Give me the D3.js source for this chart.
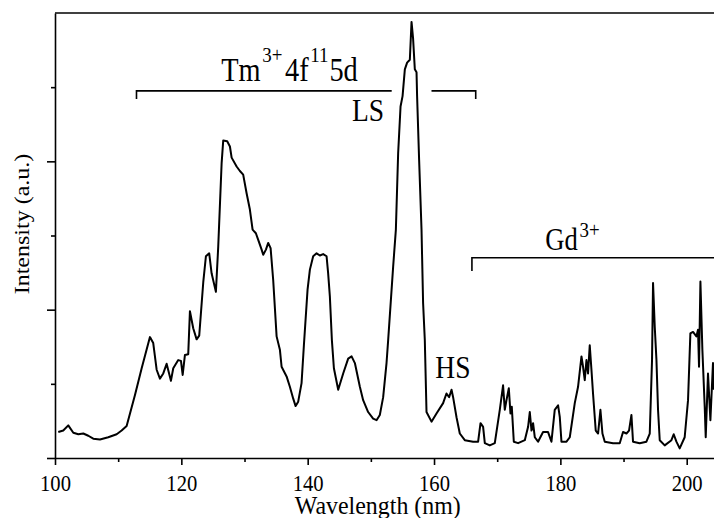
<!DOCTYPE html>
<html>
<head>
<meta charset="utf-8">
<script src="https://cdn.jsdelivr.net/npm/d3@7"></script>
<style>
  body { margin: 0; background: #fff; }
  text { font-family: "Liberation Serif", "Times New Roman", serif; fill: #000; }
</style>
</head>
<body>
<div id="vis"></div>
<script>
// spectrum (wavelength in nm, intensity in a.u.)
var wavelength = [100.52,101.31,102.10,102.90,103.69,104.48,105.27,106.06,107.12,108.43,
    109.76,110.55,111.34,112.66,113.72,115.03,115.55,116.09,116.61,117.14,
    117.67,118.35,118.72,119.51,119.94,120.21,120.57,121.09,121.36,121.88,
    122.42,122.83,123.47,123.89,124.41,124.79,125.47,125.84,126.38,126.63,
    127.26,127.69,127.96,128.75,129.27,129.79,130.33,130.85,131.28,131.80,
    132.17,132.71,132.96,133.39,133.75,134.13,134.54,135.08,135.60,135.87,
    136.66,137.18,137.71,138.09,138.50,139.03,139.40,139.98,140.35,140.87,
    141.41,141.93,142.45,142.99,143.24,143.51,143.83,144.15,144.83,145.62,
    146.41,146.95,147.47,148.26,148.78,149.57,150.36,150.90,151.42,151.95,
    152.48,152.74,153.53,153.96,154.32,154.70,155.02,155.38,155.74,156.17,
    156.44,156.69,156.96,157.23,157.32,157.64,158.02,158.27,158.54,158.81,
    159.60,160.39,161.44,161.97,162.39,162.77,163.02,163.56,164.08,164.87,
    166.19,166.98,167.36,167.77,168.04,168.83,169.62,170.41,170.93,171.20,
    171.47,171.84,172.10,172.31,172.63,173.31,174.37,174.89,175.16,175.43,
    175.68,175.95,176.47,177.26,178.05,178.59,179.11,179.64,179.91,180.17,
    180.97,181.49,182.28,182.80,183.34,183.59,183.86,184.13,184.38,184.65,
    184.92,185.17,185.60,185.97,186.34,186.66,187.03,188.34,189.40,189.92,
    190.46,190.87,191.25,191.50,192.56,193.62,194.15,194.51,194.67,194.94,
    195.21,195.46,195.73,196.52,197.58,197.94,198.37,198.89,199.68,200.21,
    200.58,201.00,201.53,201.79,201.95,202.17,202.48,202.85,203.01,203.37,
    203.75,204.16,204.30];

var intensity = [0.35,0.37,0.44,0.34,0.32,0.33,0.30,0.26,0.25,0.28,
    0.32,0.37,0.43,0.85,1.21,1.63,1.55,1.19,1.07,1.14,
    1.27,1.04,1.21,1.32,1.31,1.12,1.39,1.40,1.98,1.75,
    1.60,1.65,2.37,2.72,2.76,2.49,2.24,2.85,3.98,4.28,
    4.27,4.20,4.05,3.93,3.87,3.82,3.57,3.35,3.08,3.03,
    2.94,2.81,2.74,2.81,2.90,2.83,2.40,1.64,1.46,1.23,
    1.10,0.96,0.80,0.70,0.76,1.01,1.52,2.27,2.54,2.72,
    2.76,2.73,2.75,2.72,2.49,2.18,1.59,1.21,0.92,1.14,
    1.34,1.37,1.28,0.96,0.78,0.62,0.53,0.51,0.58,0.82,
    1.28,1.59,2.58,3.08,4.11,4.74,4.88,5.24,5.33,5.37,
    5.88,5.65,5.24,5.20,4.88,4.02,3.08,2.09,1.59,0.62,
    0.49,0.60,0.74,0.87,0.82,0.92,0.82,0.55,0.33,0.24,
    0.22,0.22,0.47,0.42,0.20,0.17,0.20,0.65,0.98,0.65,
    0.78,0.94,0.60,0.69,0.22,0.20,0.24,0.42,0.62,0.37,
    0.47,0.28,0.22,0.35,0.35,0.22,0.65,0.71,0.55,0.22,
    0.22,0.28,0.74,0.96,1.37,1.23,1.05,1.32,1.14,1.52,
    1.19,0.87,0.37,0.33,0.65,0.33,0.22,0.20,0.20,0.35,
    0.33,0.37,0.58,0.22,0.20,0.22,0.33,1.32,2.36,1.77,
    1.32,0.65,0.24,0.17,0.24,0.32,0.22,0.13,0.28,0.78,
    1.68,1.70,1.64,1.73,1.23,2.38,1.46,0.69,0.28,1.14,
    0.51,1.28,0.92];

var xMajor = [100, 120, 140, 160, 180, 200];
var xMinor = [110, 130, 150, 170, 190];
var yMajor = [0, 2, 4];
var yMinor = [1, 3, 5];

// band brackets: [start, gapStart, gapEnd, end] in nm, level in a.u.
var tmBracket = [112.9, 153.3, 159.6, 166.6];
var tmLevel = 4.95;
var gdBracket = [166.0, 204.32];
var gdLevel = 2.7;

var W = 714, H = 518;
var margin = { top: 13, right: 0, bottom: 60, left: 55 };
var sx = 0.86; // glyphs in the source are a bit narrow

var svg = d3.select("#vis")
    .append("svg")
    .attr("width", W)
    .attr("height", H);

var x = d3.scaleLinear().domain([100, 204.32]).range([margin.left, W - margin.right]);
var y = d3.scaleLinear().domain([0, 6]).range([H - margin.bottom, margin.top]);

var data = wavelength.map(function (d, i) { return { nm: d, v: intensity[i] }; });

svg.append("defs").append("clipPath")
    .attr("id", "clip")
    .append("rect")
    .attr("x", margin.left)
    .attr("y", margin.top - 2)
    .attr("width", W - margin.left)
    .attr("height", y(0) - margin.top + 2);

// x axis (major ticks labelled, minor ones bare)
svg.append("g")
    .attr("transform", "translate(0," + y(0) + ")")
    .call(d3.axisBottom(x).tickValues(xMinor).tickSize(4).tickFormat(""))
    .call(function (g) { g.select(".domain").remove(); });

var xAxis = svg.append("g")
    .attr("transform", "translate(0," + y(0) + ")")
    .call(d3.axisBottom(x).tickValues(xMajor).tickSize(7).tickSizeOuter(0).tickFormat(d3.format("d")));

xAxis.selectAll("text")
    .attr("y", null).attr("dy", null)
    .attr("transform", "translate(0,33) scale(" + sx + ",1)")
    .attr("font-size", 24)
    .style("font-family", "'Liberation Serif', serif");

// y axis without labels
svg.append("g")
    .attr("transform", "translate(" + margin.left + ",0)")
    .call(d3.axisLeft(y).tickValues(yMinor).tickSize(4).tickFormat(""))
    .call(function (g) { g.select(".domain").remove(); });

svg.append("g")
    .attr("transform", "translate(" + margin.left + ",0)")
    .call(d3.axisLeft(y).tickValues(yMajor).tickSize(8).tickSizeOuter(0).tickFormat(""));

// top frame line
svg.append("line")
    .attr("x1", margin.left).attr("x2", W)
    .attr("y1", y(6)).attr("y2", y(6))
    .attr("stroke", "#000").attr("stroke-width", 1.6);

svg.selectAll(".domain, .tick line").attr("stroke", "#000").attr("stroke-width", 1.6);

svg.append("path")
    .datum(data)
    .attr("clip-path", "url(#clip)")
    .attr("fill", "none")
    .attr("stroke", "#000")
    .attr("stroke-width", 2)
    .attr("stroke-linejoin", "round")
    .attr("d", d3.line().x(d => x(d.nm)).y(d => y(d.v)));

// brackets
var tick = 0.11;
svg.append("path")
    .attr("fill", "none").attr("stroke", "#000").attr("stroke-width", 1.6)
    .attr("d", "M" + x(tmBracket[0]) + "," + y(tmLevel - tick) +
        "V" + y(tmLevel) + "H" + x(tmBracket[1]) +
        "M" + x(tmBracket[2]) + "," + y(tmLevel) + "H" + x(tmBracket[3]) +
        "V" + y(tmLevel - tick));

svg.append("path")
    .attr("fill", "none").attr("stroke", "#000").attr("stroke-width", 1.6)
    .attr("d", "M" + x(gdBracket[0]) + "," + y(gdLevel - 0.18) +
        "V" + y(gdLevel) + "H" + x(gdBracket[1]));

function label(nm, v, size) {
    return svg.append("text")
        .attr("transform", "translate(" + x(nm) + "," + y(v) + ") scale(" + sx + ",1)")
        .attr("font-size", size);
}

var tm = label(126.3, 5.08, 33);
tm.append("tspan").text("Tm");
tm.append("tspan").attr("font-size", 22).attr("dx", 2).attr("dy", -19).text("3+");
tm.append("tspan").attr("dx", 3).attr("dy", 19).text("4f");
tm.append("tspan").attr("font-size", 22).attr("dx", 2).attr("dy", -19).text("11");
tm.append("tspan").attr("dx", 1).attr("dy", 19).text("5d");

label(147.0, 4.54, 32).text("LS");
label(160.2, 1.08, 32).text("HS");

var gd = label(177.6, 2.80, 31);
gd.append("tspan").text("Gd");
gd.append("tspan").attr("font-size", 22).attr("dx", 2).attr("dy", -13).text("3+");

// axis titles
svg.append("text")
    .attr("transform", "translate(" + x(151.1) + ",514) scale(0.92,1)")
    .attr("text-anchor", "middle")
    .attr("font-size", 26)
    .text("Wavelength (nm)");

svg.append("text")
    .attr("transform", "translate(29," + 224 + ") rotate(-90) scale(1," + sx + ")")
    .attr("text-anchor", "middle")
    .attr("font-size", 24)
    .text("Intensity (a.u.)");
</script>
</body>
</html>
